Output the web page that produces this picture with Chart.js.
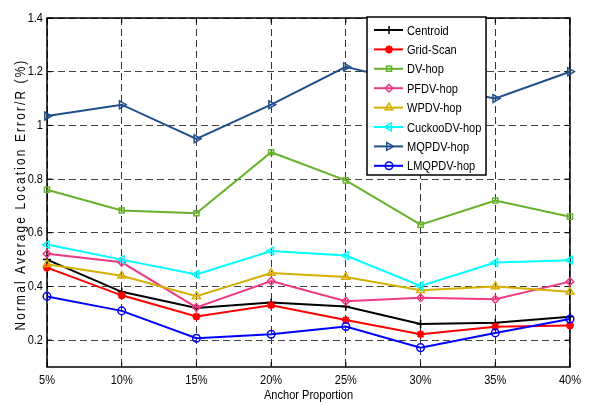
<!DOCTYPE html>
<html>
<head>
<meta charset="utf-8">
<script src="https://cdn.jsdelivr.net/npm/chart.js"></script>
<style>
  body { margin: 0; background: #fff; }
</style>
</head>
<body>
<canvas id="myChart" width="589" height="405"></canvas>
<script>
const labels = ['5%', '10%', '15%', '20%', '25%', '30%', '35%', '40%'];
const yTicks = [0.2, 0.4, 0.6, 0.8, 1, 1.2, 1.4];

const centroid = [0.50, 0.38, 0.32, 0.34, 0.325, 0.26, 0.265, 0.287];
const gridScan = [0.47, 0.367, 0.288, 0.33, 0.275, 0.222, 0.25, 0.255];
const dvHop = [0.76, 0.683, 0.673, 0.90, 0.795, 0.63, 0.72, 0.66];
const pfdvHop = [0.522, 0.49, 0.322, 0.42, 0.345, 0.358, 0.352, 0.418];
const wpdvHop = [0.483, 0.44, 0.364, 0.45, 0.435, 0.386, 0.40, 0.38];
const cuckooDvHop = [0.556, 0.50, 0.445, 0.532, 0.515, 0.402, 0.489, 0.498];
const mqpdvHop = [1.035, 1.077, 0.95, 1.077, 1.218, 1.15, 1.10, 1.20];
const lmqpdvHop = [0.363, 0.309, 0.207, 0.222, 0.251, 0.172, 0.227, 0.279];

const FONT = '"Liberation Sans", Arial, sans-serif';
const NARROW = 0.85; // the original uses a condensed Helvetica

const canvas = document.getElementById('myChart');
const c2d = canvas.getContext('2d');
// squeeze every text horizontally to look like a narrow font
const rawFillText = c2d.fillText.bind(c2d);
c2d.fillText = function (text, x, y) {
    this.save();
    this.translate(x, y);
    this.scale(NARROW, 1);
    rawFillText(text, 0, 0);
    this.restore();
};

function series(label, data, color, style, radius, rotation) {
    return {
        label: label,
        data: data,
        borderColor: color,
        backgroundColor: 'rgba(0,0,0,0)',
        borderWidth: 2,
        pointStyle: style,
        pointRadius: radius,
        pointRotation: rotation || 0,
        pointBorderWidth: 1.5,
        pointBackgroundColor: 'rgba(0,0,0,0)',
        tension: 0
    };
}

const datasets = [
    series('Centroid', centroid, '#000000', 'cross', 4),
    series('Grid-Scan', gridScan, '#ff0000', 'star', 4),
    series('DV-hop', dvHop, '#66b22a', 'rect', 3.6),
    series('PFDV-hop', pfdvHop, '#ee3a82', 'rectRot', 3.8),
    series('WPDV-hop', wpdvHop, '#d6b000', 'triangle', 4.5),
    series('CuckooDV-hop', cuckooDvHop, '#00ffff', 'triangle', 4.5, -90),
    series('MQPDV-hop', mqpdvHop, '#1f4f8a', 'triangle', 4.5, 90),
    series('LMQPDV-hop', lmqpdvHop, '#0000ff', 'circle', 3.8)
];
datasets[1].pointBorderWidth = 2.2;
// later series on top, like the original
datasets.forEach((d, i) => { d.order = datasets.length - i; });

// axes box with inner tick marks
const boxPlugin = {
    id: 'box',
    beforeDatasetsDraw(chart) {
        const {ctx, chartArea: a, scales} = chart;
        ctx.save();
        ctx.strokeStyle = '#000';
        ctx.lineWidth = 1.5;
        ctx.setLineDash([]);
        ctx.strokeRect(a.left, a.top, a.right - a.left, a.bottom - a.top);
        ctx.lineWidth = 1;
        ctx.beginPath();
        labels.forEach((l, i) => {
            const x = scales.x.getPixelForValue(i);
            ctx.moveTo(x, a.bottom); ctx.lineTo(x, a.bottom - 5);
            ctx.moveTo(x, a.top); ctx.lineTo(x, a.top + 5);
        });
        yTicks.forEach(v => {
            const y = scales.y.getPixelForValue(v);
            ctx.moveTo(a.left, y); ctx.lineTo(a.left + 5, y);
            ctx.moveTo(a.right, y); ctx.lineTo(a.right - 5, y);
        });
        ctx.stroke();
        ctx.restore();
    }
};

// y title with letter spacing + legend box inside the plot
const overlayPlugin = {
    id: 'overlay',
    afterDraw(chart) {
        const {ctx, chartArea: a} = chart;
        ctx.save();
        ctx.fillStyle = '#000';
        ctx.font = '14px ' + FONT;
        if ('letterSpacing' in ctx) ctx.letterSpacing = '2.5px';
        ctx.translate(21, (a.top + a.bottom) / 2 + 2);
        ctx.rotate(-Math.PI / 2);
        ctx.textAlign = 'center';
        ctx.textBaseline = 'middle';
        ctx.fillText('Normal Average Location Error/R (%)', 0, 0);
        ctx.restore();

        // legend
        const left = a.left + 320, top = a.top - 1, w = 119, h = 158;
        ctx.save();
        ctx.fillStyle = '#fff';
        ctx.fillRect(left, top, w, h);
        ctx.strokeStyle = '#000';
        ctx.lineWidth = 1.5;
        ctx.strokeRect(left, top, w, h);
        chart.data.datasets.forEach((d, i) => {
            const y = top + 13 + i * 19.4;
            ctx.strokeStyle = d.borderColor;
            ctx.lineWidth = 2;
            ctx.beginPath();
            ctx.moveTo(left + 7, y);
            ctx.lineTo(left + 36, y);
            ctx.stroke();
            ctx.fillStyle = 'rgba(0,0,0,0)';
            ctx.lineWidth = d.pointBorderWidth;
            if (Chart.helpers && Chart.helpers.drawPoint) {
                Chart.helpers.drawPoint(ctx, {
                    pointStyle: d.pointStyle,
                    rotation: d.pointRotation,
                    radius: d.pointRadius,
                    borderWidth: d.pointBorderWidth
                }, left + 22, y);
            }
            ctx.fillStyle = '#000';
            ctx.font = '13px ' + FONT;
            ctx.textAlign = 'left';
            ctx.textBaseline = 'middle';
            ctx.fillText(d.label, left + 40, y + 1);
        });
        ctx.restore();
    }
};

new Chart(canvas, {
    type: 'line',
    data: {
        labels: labels,
        datasets: datasets
    },
    options: {
        responsive: false,
        animation: false,
        layout: {
            padding: {left: 0, right: 11, top: 18, bottom: 0}
        },
        plugins: {
            legend: {display: false},
            tooltip: {enabled: false}
        },
        scales: {
            x: {
                afterFit(scale) { scale.height = 38; },
                grid: {
                    color: '#333',
                    lineWidth: 1,
                    drawTicks: false
                },
                border: {display: false, dash: [7, 4]},
                ticks: {
                    color: '#000',
                    padding: 6,
                    font: {family: FONT, size: 13}
                },
                title: {
                    display: true,
                    text: 'Anchor Proportion',
                    color: '#000',
                    font: {family: FONT, size: 13},
                    padding: {top: 0, bottom: 2}
                }
            },
            y: {
                min: 0.1,
                max: 1.4,
                afterFit(scale) { scale.width = 47; },
                afterBuildTicks(scale) {
                    scale.ticks = yTicks.map(v => ({value: v}));
                },
                grid: {
                    color: '#444',
                    lineWidth: 1,
                    drawTicks: false
                },
                border: {display: false, dash: [7, 4]},
                ticks: {
                    color: '#000',
                    padding: 4,
                    font: {family: FONT, size: 13},
                    callback: v => String(v)
                }
            }
        }
    },
    plugins: [boxPlugin, overlayPlugin]
});
</script>
</body>
</html>
